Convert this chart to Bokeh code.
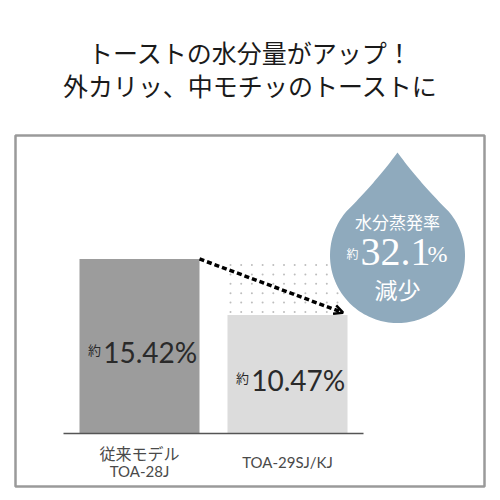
import numpy as np
from bokeh.plotting import figure
from bokeh.models import Range1d, Arrow, OpenHead
from bokeh.core.properties import value
from bokeh.embed import file_html
from bokeh.resources import INLINE

# ---- data ----
title_lines = ["トーストの水分量がアップ！", "外カリッ、中モチッのトーストに"]
model_notes = ["従来モデル", ""]
model_names = ["TOA-28J", "TOA-29SJ/KJ"]
values = [15.42, 10.47]
value_labels = ["15.42%", "10.47%"]
bar_colors = ["#9c9c9c", "#dcdcdc"]
reduction_title = "水分蒸発率"
reduction_value = "32.1"
reduction_word = "減少"

# ---- layout helpers (page pixel -> data) ----
X_C0, X_STEP = 139.0, 148.0   # page x of first bar centre, spacing
Y_ZERO, Y_SCALE = 433.0, 11.32  # page y of zero line, px per unit
W = H = 500

def px(x):
    return (x - X_C0) / X_STEP

def py(y):
    return (Y_ZERO - y) / Y_SCALE

p = figure(width=W, height=H,
           x_range=Range1d(px(0), px(W)),
           y_range=Range1d(py(H), py(0)),
           output_backend="svg", toolbar_location=None,
           min_border=0, x_axis_location=None, y_axis_location=None)
p.grid.visible = False
p.outline_line_color = None
p.background_fill_color = "white"

CJK = value("Noto Sans CJK JP")
SERIF = value("'Liberation Serif', serif")

# title
for i, line in enumerate(title_lines):
    p.text(x=[px(250)], y=[py(51 + 33 * i)], text=[line], text_font=CJK,
           text_font_size="25px", text_color="#1a1a1a",
           text_align="center", text_baseline="middle")

# frame border
p.quad(left=[px(15)], right=[px(484)], top=[py(135)], bottom=[py(486)],
       fill_color=None, line_color="#9a9a9a", line_width=2.5)

# bars
xs = list(range(len(values)))
bw = 120 / X_STEP
p.vbar(x=xs, top=values, bottom=0, width=bw, fill_color=bar_colors, line_color=None)

# dotted difference area (grid of fine dots between the two bar tops)
dx, dy = 10.7 / X_STEP, 9.4 / Y_SCALE
gx = np.arange(xs[1] - bw / 2 + 3 / X_STEP, xs[1] + bw / 2 - 5 / X_STEP, dx)
gy = np.arange(values[1] + 3 / Y_SCALE, values[0] - 2 / Y_SCALE, dy)
GX, GY = np.meshgrid(gx, gy)
p.scatter(x=GX.ravel(), y=GY.ravel(), size=2, marker="circle",
          fill_color="#bdbdbd", line_color=None)

# baseline
p.segment(x0=[px(63)], x1=[px(363)], y0=[0], y1=[0], line_color="#555555", line_width=1.5)

# dashed arrow
p.add_layout(Arrow(x_start=xs[0] + bw / 2, y_start=values[0],
                   x_end=xs[1] + bw / 2 - 0.03, y_end=values[1] + 0.2,
                   line_color="black", line_width=3.5, line_dash="5 3",
                   end=OpenHead(size=9, line_width=2.5, line_color="black")))

# value labels
for i, v in enumerate(values):
    yc = v / 2 - 0.55
    p.text(x=[xs[i] - 0.245], y=[yc], text=[value_labels[i]], text_font=value("Lato"),
           text_font_size="28px", text_color="#2a2a2a",
           text_align="left", text_baseline="middle")
    p.text(x=[xs[i] - 0.26], y=[yc + 0.25], text=["約"], text_font=CJK,
           text_font_size="13px", text_color="#2a2a2a",
           text_align="right", text_baseline="middle")

# category labels
p.text(x=[xs[0]], y=[py(452)], text=[model_notes[0]], text_font=CJK,
       text_font_size="16px", text_color="#4a4a4a", text_align="center", text_baseline="middle")
p.text(x=[xs[0]], y=[py(470)], text=[model_names[0]], text_font=value("Lato"),
       text_font_size="15px", text_color="#4a4a4a", text_align="center", text_baseline="middle")
p.text(x=[xs[1]], y=[py(461)], text=[model_names[1]], text_font=value("Lato"),
       text_font_size="15px", text_color="#4a4a4a", text_align="center", text_baseline="middle")

# water drop
cx, cy, r, tip_y = 397.0, 255.0, 67.5, 152.0
d = cy - tip_y
th_t = np.arccos(r / d)
th = np.linspace(th_t, 2 * np.pi - th_t, 120)
arc_x = cx + r * np.sin(th)
arc_y = cy - r * np.cos(th)
t = np.linspace(0, 1, 30)
def side(x0, y0, x1, y1, cxp, cyp):
    bx = (1 - t) ** 2 * x0 + 2 * (1 - t) * t * cxp + t ** 2 * x1
    by = (1 - t) ** 2 * y0 + 2 * (1 - t) * t * cyp + t ** 2 * y1
    return bx, by
lx, ly = side(arc_x[-1], arc_y[-1], cx, tip_y,
              (arc_x[-1] + cx) / 2 + 4, (arc_y[-1] + tip_y) / 2)
rx, ry = side(cx, tip_y, arc_x[0], arc_y[0],
              (arc_x[0] + cx) / 2 - 4, (arc_y[0] + tip_y) / 2)
drop_x = np.concatenate([rx, arc_x, lx])
drop_y = np.concatenate([ry, arc_y, ly])
p.patch(x=[px(v) for v in drop_x], y=[py(v) for v in drop_y],
        fill_color="#8faabd", line_color=None)

p.text(x=[px(397)], y=[py(221)], text=[reduction_title], text_font=CJK,
       text_font_size="17px", text_color="white", text_align="center", text_baseline="middle")
p.text(x=[px(360)], y=[py(251)], text=[reduction_value], text_font=SERIF,
       text_font_size="40px", text_color="white", text_align="left", text_baseline="middle")
p.text(x=[px(427)], y=[py(253)], text=["%"], text_font=SERIF,
       text_font_size="24px", text_color="white", text_align="left", text_baseline="middle")
p.text(x=[px(358)], y=[py(253)], text=["約"], text_font=CJK,
       text_font_size="12px", text_color="white", text_align="right", text_baseline="middle")
p.text(x=[px(397)], y=[py(288)], text=[reduction_word], text_font=CJK,
       text_font_size="23px", text_color="white", text_align="center", text_baseline="middle")

open("out.html", "w").write(file_html(p, INLINE))
